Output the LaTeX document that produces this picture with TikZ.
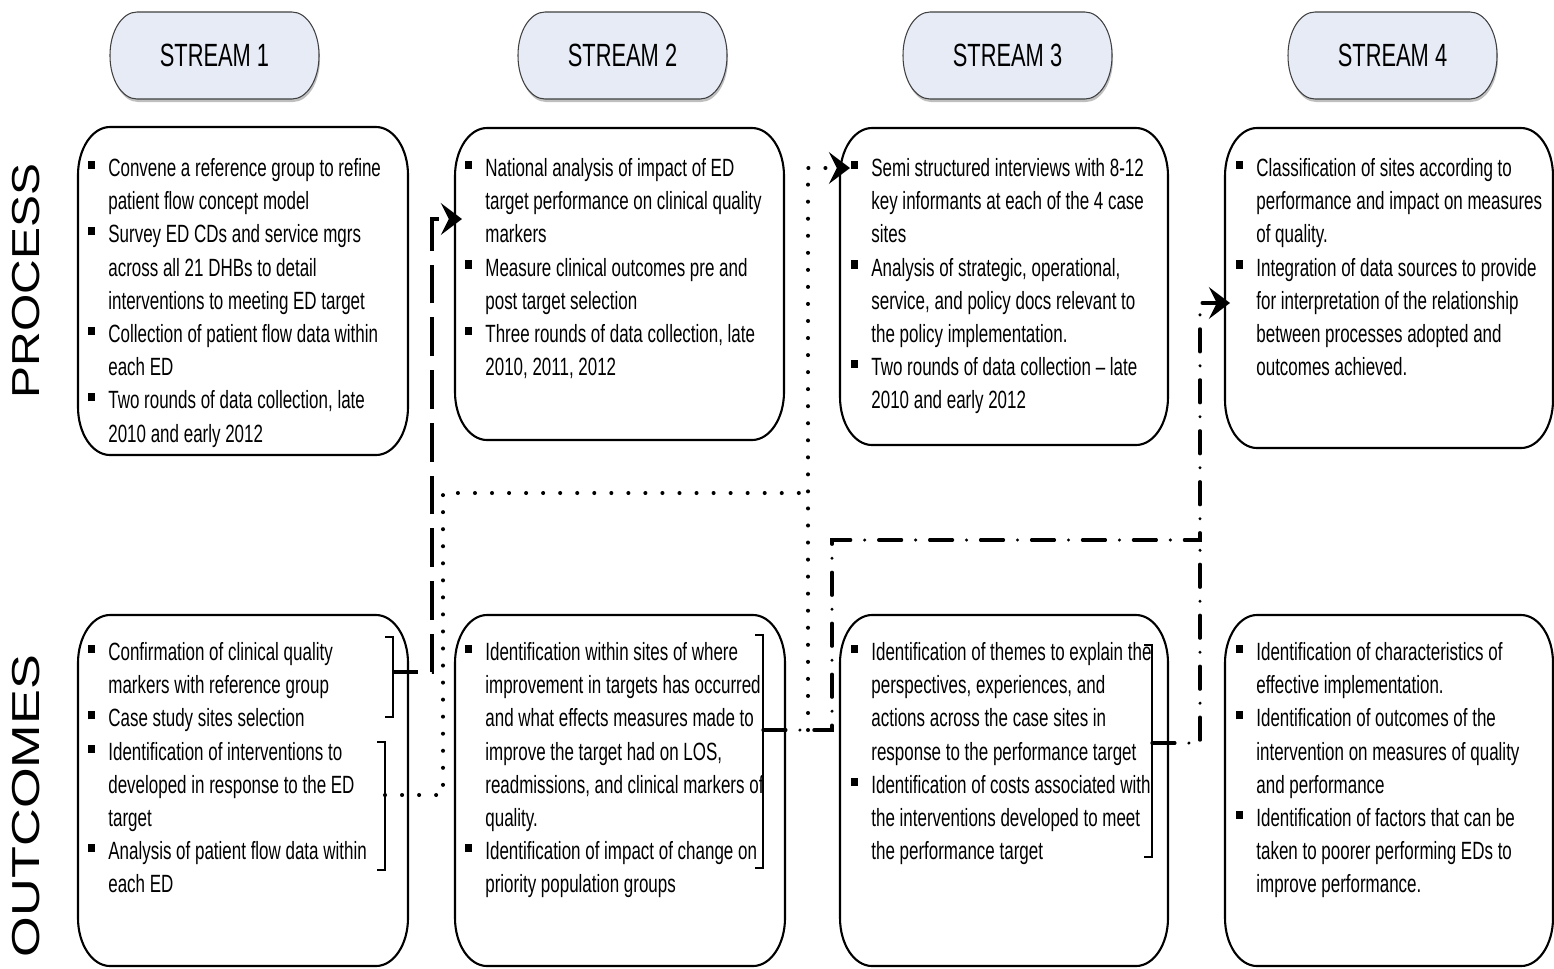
\documentclass[tikz,border=0pt]{standalone}
\usepackage{fontspec}
\usepackage{graphicx}
\usetikzlibrary{arrows.meta}
\newfontfamily\narrowfont[FakeStretch=0.68]{Liberation Sans}
\newfontfamily\widefont{Liberation Sans}
\definecolor{streamfill}{RGB}{230,235,246}

\newcommand{\bul}{\makebox[11.4pt][l]{\rule[0.3em]{4pt}{4.6pt}}}
\newcommand{\cont}{\hspace*{11.4pt}}
% box with oval corners: style, x1, y1, x2, y2, rx, ry
\newcommand{\ovalframe}[7]{%
  \draw[#1] (#2+#6,#3) -- (#4-#6,#3)
    .. controls (#4-0.448*#6,#3) and (#4,#3+0.448*#7) .. (#4,#3+#7)
    -- (#4,#5-#7)
    .. controls (#4,#5-0.448*#7) and (#4-0.448*#6,#5) .. (#4-#6,#5)
    -- (#2+#6,#5)
    .. controls (#2+0.448*#6,#5) and (#2,#5-0.448*#7) .. (#2,#5-#7)
    -- (#2,#3+#7)
    .. controls (#2,#3+0.448*#7) and (#2+0.448*#6,#3) .. cycle;}
% closing bracket: x, top, bottom
\newcommand{\closebracket}[3]{%
  \draw[bracketline] (#1-8,#2) -- (#1,#2) -- (#1,#3) -- (#1-8,#3);}

\begin{document}
\begin{tikzpicture}[x=0.02cm, y=-0.02cm,
    boxline/.style={line width=1.2pt},
    pill/.style={fill=streamfill, draw=black!75, line width=0.6pt},
    pillshadow/.style={fill=black!25, draw=none},
    bracketline/.style={line width=1.1pt},
    txt/.style={anchor=north west, inner sep=0pt, align=left,
      font=\narrowfont\fontsize{14.2}{18.9}\selectfont},
    streamlbl/.style={inner sep=0pt, font=\narrowfont\fontsize{18.3}{22}\selectfont},
    sidelbl/.style={inner sep=0pt, rotate=90, font=\widefont\fontsize{22.2}{26}\selectfont},
    longdash/.style={line width=1.9pt, dash pattern=on 22pt off 8pt, dash phase=8pt},
    dotline/.style={line width=2.3pt, line cap=round, dash pattern=on 0pt off 9.7pt},
    dashdot/.style={line width=1.9pt, line cap=round, dash pattern=on 13pt off 8pt on 0pt off 8pt},
    tip/.style={-{Stealth[length=12pt, width=18pt, inset=4.5pt]}}]
  \useasboundingbox (0,0) rectangle (1554,968);

  % stream headers
  \ovalframe{pillshadow}{111}{15}{320}{102}{27}{43}
  \ovalframe{pill}{110}{12}{319}{99}{27}{43}
  \ovalframe{pillshadow}{519}{15}{728}{102}{27}{43}
  \ovalframe{pill}{518}{12}{727}{99}{27}{43}
  \ovalframe{pillshadow}{904}{15}{1113}{102}{27}{43}
  \ovalframe{pill}{903}{12}{1112}{99}{27}{43}
  \ovalframe{pillshadow}{1289}{15}{1498}{102}{27}{43}
  \ovalframe{pill}{1288}{12}{1497}{99}{27}{43}
  \node[streamlbl] (s1) at (214.5,55) {STREAM 1};
  \node[streamlbl] (s2) at (622.5,55) {STREAM 2};
  \node[streamlbl] (s3) at (1007.5,55) {STREAM 3};
  \node[streamlbl] (s4) at (1392.5,55) {STREAM 4};

  % row labels
  \node[sidelbl] (process) at (26,281) {\scalebox{1.23}[1]{PROCESS}};
  \node[sidelbl] (outcomes) at (26,806) {\scalebox{1.34}[1]{OUTCOMES}};

  % process boxes
  \ovalframe{boxline}{78}{127}{408}{455}{32}{48}
  \ovalframe{boxline}{455}{128}{784}{440}{32}{48}
  \ovalframe{boxline}{840}{128}{1168}{445}{32}{48}
  \ovalframe{boxline}{1225}{128}{1553}{448}{32}{48}

  % outcome boxes
  \ovalframe{boxline}{78}{615}{408}{966}{32}{48}
  \ovalframe{boxline}{455}{615}{785}{966}{32}{48}
  \ovalframe{boxline}{840}{615}{1168}{966}{32}{48}
  \ovalframe{boxline}{1225}{615}{1553}{966}{32}{48}

  \node[txt] (p1) at (88,158) {\bul Convene a reference group to refine\\
    \cont patient flow concept model\\
    \bul Survey ED CDs and service mgrs\\
    \cont across all 21 DHBs to detail\\
    \cont interventions to meeting ED target\\
    \bul Collection of patient flow data within\\
    \cont each ED\\
    \bul Two rounds of data collection, late\\
    \cont 2010 and early 2012};
  \node[txt] (p2) at (465,158) {\bul National analysis of impact of ED\\
    \cont target performance on clinical quality\\
    \cont markers\\
    \bul Measure clinical outcomes pre and\\
    \cont post target selection\\
    \bul Three rounds of data collection, late\\
    \cont 2010, 2011, 2012};
  \node[txt] (p3) at (851,158) {\bul Semi structured interviews with 8-12\\
    \cont key informants at each of the 4 case\\
    \cont sites\\
    \bul Analysis of strategic, operational,\\
    \cont service, and policy docs relevant to\\
    \cont the policy implementation.\\
    \bul Two rounds of data collection – late\\
    \cont 2010 and early 2012};
  \node[txt] (p4) at (1236,158) {\bul Classification of sites according to\\
    \cont performance and impact on measures\\
    \cont of quality.\\
    \bul Integration of data sources to provide\\
    \cont for interpretation of the relationship\\
    \cont between processes adopted and\\
    \cont outcomes achieved.};

  \node[txt] (o1) at (88,642) {\bul Confirmation of clinical quality\\
    \cont markers with reference group\\
    \bul Case study sites selection\\
    \bul Identification of interventions to\\
    \cont developed in response to the ED\\
    \cont target\\
    \bul Analysis of patient flow data within\\
    \cont each ED};
  \node[txt] (o2) at (465,642) {\bul Identification within sites of where\\
    \cont improvement in targets has occurred\\
    \cont and what effects measures made to\\
    \cont improve the target had on LOS,\\
    \cont readmissions, and clinical markers of\\
    \cont quality.\\
    \bul Identification of impact of change on\\
    \cont priority population groups};
  \node[txt] (o3) at (851,642) {\bul Identification of themes to explain the\\
    \cont perspectives, experiences, and\\
    \cont actions across the case sites in\\
    \cont response to the performance target\\
    \bul Identification of costs associated with\\
    \cont the interventions developed to meet\\
    \cont the performance target};
  \node[txt] (o4) at (1236,642) {\bul Identification of characteristics of\\
    \cont effective implementation.\\
    \bul Identification of outcomes of the\\
    \cont intervention on measures of quality\\
    \cont and performance\\
    \bul Identification of factors that can be\\
    \cont taken to poorer performing EDs to\\
    \cont improve performance.};

  % brackets on the outcomes
  \closebracket{393}{637}{717}
  \closebracket{385}{742}{870}
  \closebracket{763}{635}{868}
  \closebracket{1152}{645}{857}
  \coordinate (b1a) at (393,672);
  \coordinate (b1b) at (385,795);
  \coordinate (b2) at (763,730);
  \coordinate (b3) at (1152,743);

  % arrow ends in the process boxes
  \coordinate (t2) at (462,219);
  \coordinate (t3) at (850,168);
  \coordinate (t4) at (1230,303);

  % connectors
  \draw[longdash, tip] (b1a) -- ++(39,0) |- (t2);
  \draw[dotline] (b1b) -| (443,493) -- (808,493);
  \draw[dotline, tip] (b2) ++(45,0) |- (t3);
  \draw[dashdot, tip] (b2) -| (832,540) -- (1200,540) |- (t4);
  \draw[dashdot] (b3) -| (1200,540);
\end{tikzpicture}
\end{document}
